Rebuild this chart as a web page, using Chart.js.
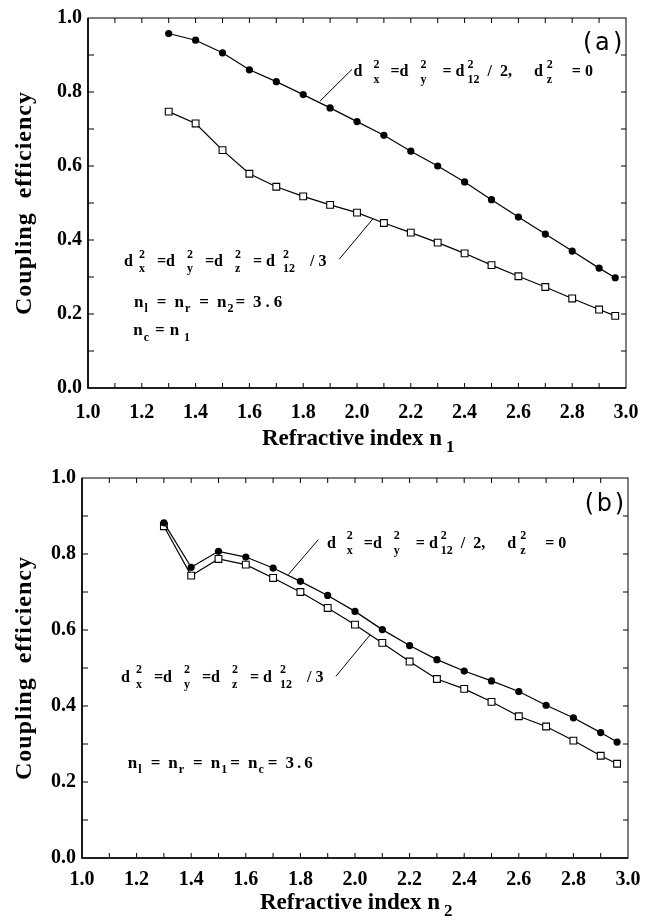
<!DOCTYPE html>
<html>
<head>
<meta charset="utf-8">
<script src="https://cdn.jsdelivr.net/npm/chart.js@4.4.0/dist/chart.umd.min.js"></script>
<style>
  html, body { margin: 0; padding: 0; background: #fff; }
  .panel { position: absolute; left: 0; width: 653px; height: 460px; }
</style>
</head>
<body>
<div class="panel" style="top:0"><canvas id="chart-a"></canvas></div>
<div class="panel" style="top:460px"><canvas id="chart-b"></canvas></div>
<script>
// refractive index values (x) shared by both panels
const refractiveIndex = [1.3, 1.4, 1.5, 1.6, 1.7, 1.8, 1.9, 2.0, 2.1, 2.2, 2.3, 2.4, 2.5, 2.6, 2.7, 2.8, 2.9, 2.96];

// panel (a) : n1 varies
const couplingAHalf  = [0.958, 0.940, 0.906, 0.860, 0.828, 0.793, 0.757, 0.720, 0.683, 0.640, 0.600, 0.557, 0.509, 0.462, 0.416, 0.370, 0.324, 0.298];
const couplingAThird = [0.747, 0.715, 0.643, 0.579, 0.544, 0.518, 0.495, 0.474, 0.446, 0.420, 0.393, 0.364, 0.332, 0.302, 0.273, 0.242, 0.212, 0.195];

// panel (b) : n2 varies
const couplingBHalf  = [0.882, 0.765, 0.807, 0.792, 0.763, 0.728, 0.691, 0.649, 0.601, 0.559, 0.522, 0.492, 0.466, 0.438, 0.402, 0.369, 0.330, 0.305];
const couplingBThird = [0.873, 0.743, 0.787, 0.772, 0.737, 0.700, 0.658, 0.614, 0.566, 0.517, 0.471, 0.445, 0.411, 0.373, 0.346, 0.309, 0.269, 0.248];

const SERIF = '"Liberation Serif", "Times New Roman", serif';

function toPoints(values) {
  return refractiveIndex.map((x, i) => ({ x, y: values[i] }));
}

// text with stacked super/subscripts: strings, gaps (px) and {sup, sub}
function drawRich(ctx, x, y, tokens, size) {
  const main = `bold ${size}px ${SERIF}`;
  const small = `bold ${Math.round(size * 0.72)}px ${SERIF}`;
  let cx = x;
  tokens.forEach(tok => {
    if (typeof tok === 'number') { cx += tok; return; }
    if (typeof tok === 'string') {
      ctx.font = main;
      ctx.fillText(tok, cx, y);
      cx += ctx.measureText(tok).width;
      return;
    }
    ctx.font = small;
    let w = 0;
    if (tok.sup) {
      ctx.fillText(tok.sup, cx, y - size * 0.52);
      w = Math.max(w, ctx.measureText(tok.sup).width);
    }
    if (tok.sub) {
      ctx.fillText(tok.sub, cx, y + size * (tok.sup ? 0.4 : 0.3));
      w = Math.max(w, ctx.measureText(tok.sub).width);
    }
    cx += w;
  });
}

function framePlugin(cfg) {
  return {
    id: 'frame',
    afterDraw(chart) {
      const { ctx, chartArea: a, scales: { x, y } } = chart;
      ctx.save();
      ctx.strokeStyle = '#000';
      ctx.fillStyle = '#000';

      // box
      ctx.lineWidth = 1;
      ctx.strokeRect(a.left, a.top, a.right - a.left, a.bottom - a.top);
      ctx.lineWidth = 1.6;
      ctx.beginPath();
      ctx.moveTo(a.left, a.top); ctx.lineTo(a.left, a.bottom); ctx.lineTo(a.right, a.bottom);
      ctx.stroke();

      // inward ticks every 0.1
      ctx.lineWidth = 1;
      ctx.beginPath();
      for (let i = 1; i < 20; i++) {
        const px = x.getPixelForValue(1 + i * 0.1);
        ctx.moveTo(px, a.bottom); ctx.lineTo(px, a.bottom - 5);
        ctx.moveTo(px, a.top); ctx.lineTo(px, a.top + 5);
      }
      for (let i = 1; i < 10; i++) {
        const py = y.getPixelForValue(i * 0.1);
        ctx.moveTo(a.left, py); ctx.lineTo(a.left + 6, py);
        ctx.moveTo(a.right, py); ctx.lineTo(a.right - 5, py);
      }
      ctx.stroke();

      // leader lines
      ctx.lineWidth = 1;
      ctx.beginPath();
      cfg.leaders.forEach(l => {
        ctx.moveTo(x.getPixelForValue(l[0]), y.getPixelForValue(l[1]));
        ctx.lineTo(x.getPixelForValue(l[2]), y.getPixelForValue(l[3]));
      });
      ctx.stroke();

      // annotations
      ctx.textBaseline = 'alphabetic';
      ctx.textAlign = 'left';
      cfg.notes.forEach(n => {
        drawRich(ctx, x.getPixelForValue(n.x), y.getPixelForValue(n.y), n.tokens, n.size);
      });

      // panel tag
      ctx.font = `24px "DejaVu Sans", sans-serif`;
      const tx = x.getPixelForValue(cfg.tag.x), ty = y.getPixelForValue(cfg.tag.y);
      ctx.fillText('(', tx, ty);
      ctx.fillText(cfg.tag.text, tx + 12, ty);
      ctx.fillText(')', tx + 30, ty);

      // axis titles
      ctx.save();
      ctx.translate(25, (a.top + a.bottom) / 2);
      ctx.rotate(-Math.PI / 2);
      ctx.textAlign = 'center';
      ctx.textBaseline = 'middle';
      ctx.font = `bold 24px ${SERIF}`;
      ctx.letterSpacing = '1px';
      ctx.fillText('Coupling  efficiency', 0, 0);
      ctx.restore();

      ctx.font = `bold 23px ${SERIF}`;
      const title = 'Refractive index n';
      const tw = ctx.measureText(title).width;
      const startX = (a.left + a.right) / 2 - 5 - tw / 2;
      ctx.fillText(title, startX, a.bottom + cfg.titleGap);
      ctx.font = `bold 17px ${SERIF}`;
      ctx.fillText(cfg.titleSub, startX + tw + 4, a.bottom + cfg.titleGap + 7);
      ctx.restore();
    }
  };
}

function makeChart(id, half, third, layout, cfg) {
  return new Chart(document.getElementById(id), {
    type: 'line',
    data: {
      datasets: [
        {
          data: toPoints(half),
          borderColor: '#000',
          borderWidth: 1.2,
          pointStyle: 'circle',
          pointRadius: 3.6,
          pointBackgroundColor: '#000',
          pointBorderColor: '#000',
          pointBorderWidth: 0
        },
        {
          data: toPoints(third),
          borderColor: '#000',
          borderWidth: 1.2,
          pointStyle: 'rect',
          pointRadius: 4.8,
          pointBackgroundColor: '#fff',
          pointBorderColor: '#000',
          pointBorderWidth: 1.1
        }
      ]
    },
    options: {
      responsive: true,
      maintainAspectRatio: false,
      animation: false,
      layout: { padding: layout.padding },
      plugins: { legend: { display: false }, tooltip: { enabled: false } },
      elements: { line: { tension: 0 } },
      scales: {
        x: {
          type: 'linear',
          min: 1.0,
          max: 3.0,
          grid: { display: false, drawTicks: false },
          border: { display: false },
          ticks: {
            stepSize: 0.2,
            padding: layout.xPad,
            color: '#000',
            font: { family: SERIF, weight: 'bold', size: 20 },
            callback: v => v.toFixed(1)
          },
          afterFit: s => { s.height = layout.xHeight; }
        },
        y: {
          min: 0,
          max: 1.0,
          grid: { display: false, drawTicks: false },
          border: { display: false },
          ticks: {
            stepSize: 0.2,
            padding: 6,
            color: '#000',
            font: { family: SERIF, weight: 'bold', size: 20 },
            callback: v => v.toFixed(1)
          },
          afterFit: s => { s.width = layout.yWidth; }
        }
      }
    },
    plugins: [framePlugin(cfg)]
  });
}

const halfLabel = ['d', 11, { sup: '2', sub: 'x' }, 11, '=d', 12, { sup: '2', sub: 'y' }, 16, '= d', 3, { sup: '2', sub: '12' }, 8, '/  2,', 22, 'd', 4, { sup: '2', sub: 'z' }, 19, '= 0'];
const thirdLabel = ['d', 6, { sup: '2', sub: 'x' }, 12, '=d', 12, { sup: '2', sub: 'y' }, 12, '=d', 12, { sup: '2', sub: 'z' }, 12, '= d', 8, { sup: '2', sub: '12' }, 15, '/ 3'];

makeChart('chart-a', couplingAHalf, couplingAThird,
  { padding: { top: 15, right: 27, left: 0, bottom: 0 }, yWidth: 88, xHeight: 72, xPad: 13 },
  {
    titleGap: 57,
    titleSub: '1',
    tag: { x: 2.84, y: 0.914, text: 'a' },
    leaders: [[1.862, 0.775, 1.981, 0.861], [1.934, 0.348, 2.060, 0.458]],
    notes: [
      { x: 1.987, y: 0.842, size: 16, tokens: halfLabel },
      { x: 1.134, y: 0.330, size: 16, tokens: thirdLabel },
      { x: 1.171, y: 0.218, size: 17, tokens: ['n', 1, { sub: 'l' }, 9, '=', 8, 'n', 1, { sub: 'r' }, 9, '=', 8, 'n', 1, { sub: '2' }, 2, '=', 8, '3', 4, '.', 4, '6'] },
      { x: 1.168, y: 0.142, size: 17, tokens: ['n', 1, { sub: 'c' }, 6, '=', 5, 'n', 5, { sub: '1' }] }
    ]
  });

makeChart('chart-b', couplingBHalf, couplingBThird,
  { padding: { top: 18, right: 25, left: 0, bottom: 0 }, yWidth: 82, xHeight: 62, xPad: 10 },
  {
    titleGap: 51,
    titleSub: '2',
    tag: { x: 2.842, y: 0.912, text: 'b' },
    leaders: [[1.756, 0.746, 1.866, 0.838], [1.930, 0.478, 2.055, 0.587]],
    notes: [
      { x: 1.897, y: 0.817, size: 16, tokens: halfLabel },
      { x: 1.143, y: 0.464, size: 16, tokens: thirdLabel },
      { x: 1.168, y: 0.236, size: 17, tokens: ['n', 1, { sub: 'l' }, 9, '=', 8, 'n', 1, { sub: 'r' }, 9, '=', 8, 'n', 1, { sub: '1' }, 3, '=', 8, 'n', 1, { sub: 'c' }, 4, '=', 8, '3', 3, '.', 3, '6'] }
    ]
  });
</script>
</body>
</html>
